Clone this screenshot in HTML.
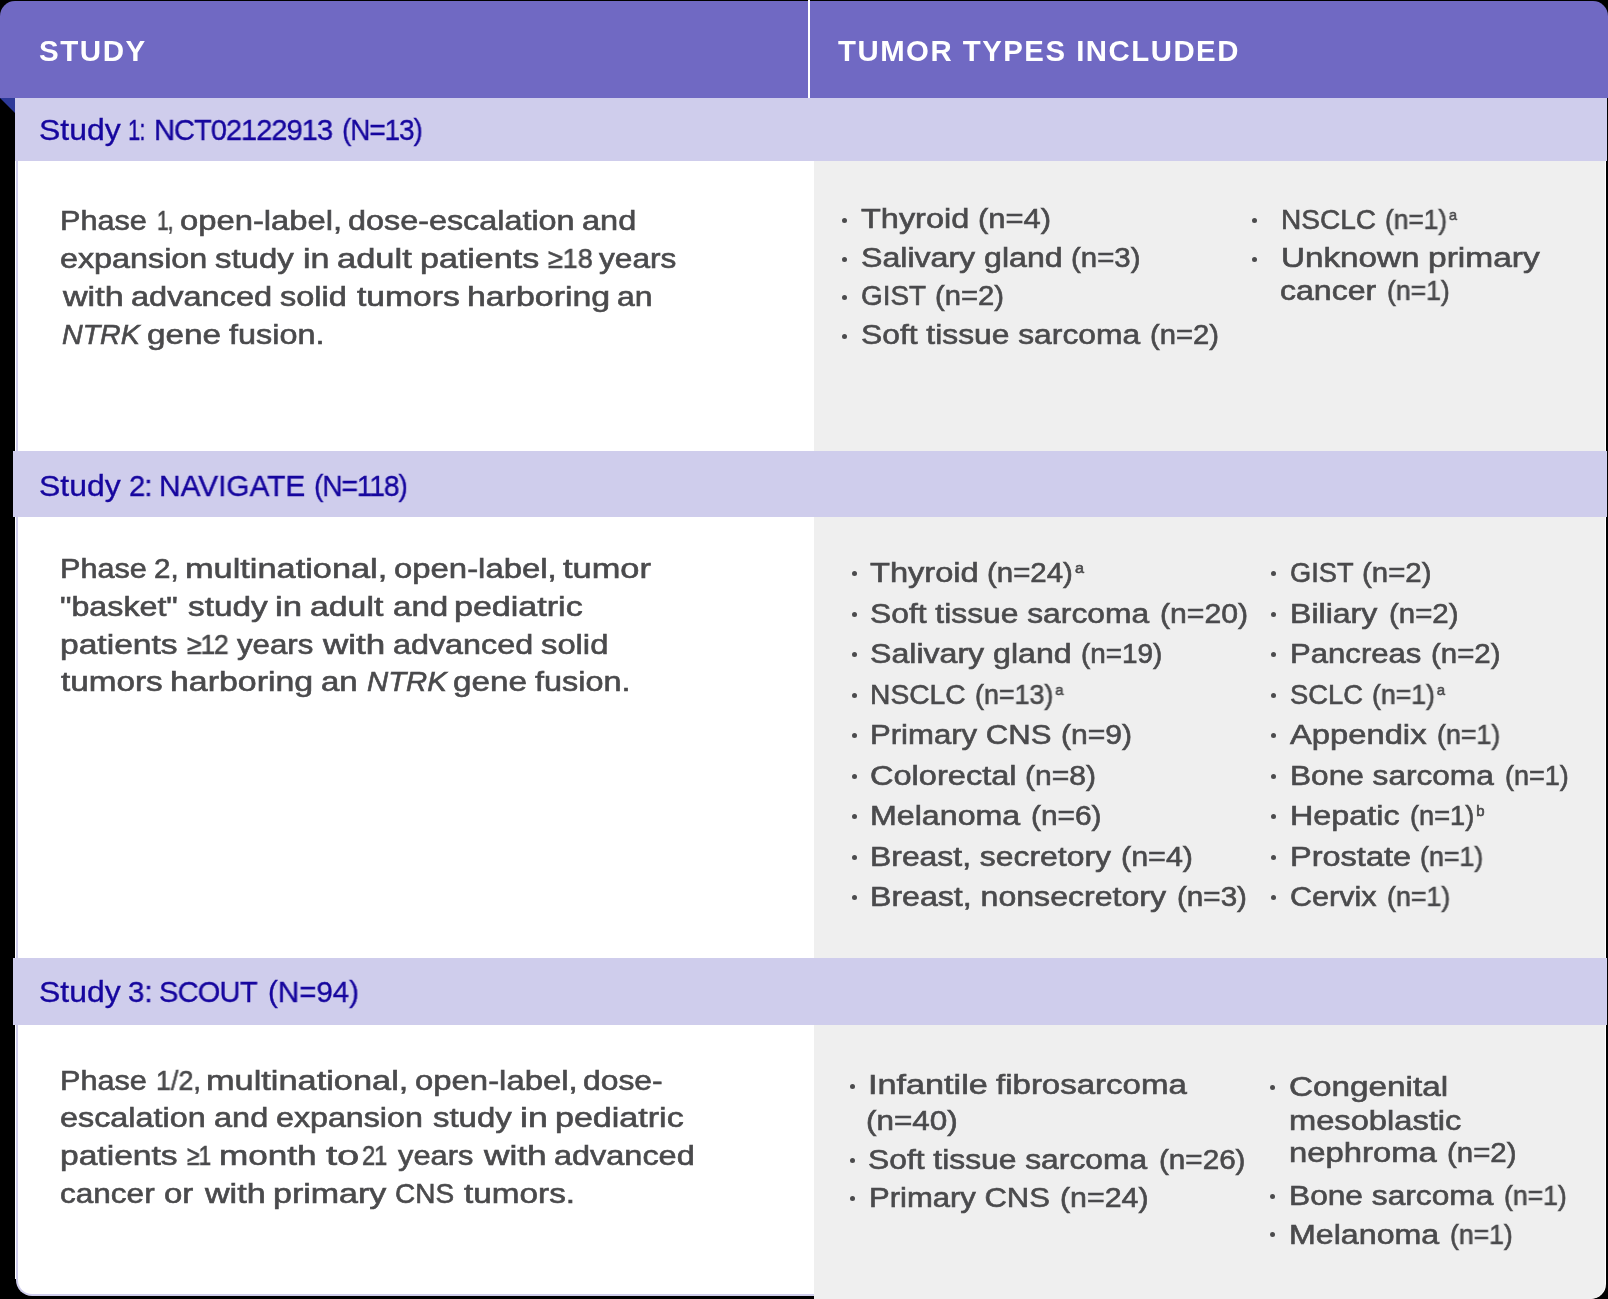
<!DOCTYPE html>
<html><head><meta charset="utf-8">
<style>
html,body{margin:0;padding:0;background:#000;width:1608px;height:1299px;overflow:hidden;position:relative;}
*{box-sizing:border-box;}
.abs{position:absolute;}
#hdr{left:0;top:1px;width:1608px;height:97px;background:#7069C3;border-radius:15px 15px 0 0;}
#hdiv{left:808px;top:0px;width:2px;height:98px;background:#fff;}
#tri{left:0;top:98px;width:0;height:0;border-top:15px solid #2E3A99;border-left:15px solid transparent;}
#bodyL{left:15px;top:98px;width:805px;height:1181px;background:#fff;}
#bodyLb{left:16px;top:98px;width:804px;height:1198px;background:#fff;border-left:2px solid #CFCDEC;border-bottom:2px solid #CFCDEC;border-radius:0 0 0 16px;}
#gray{left:814px;top:161px;width:791px;height:1138px;background:#EFEFEF;border-radius:0 0 15px 0;}
#grayw{left:814px;top:161px;width:792px;height:1138px;background:#fff;border-radius:0 0 15px 0;}
.band{background:#CFCDEC;}
.t{position:absolute;white-space:nowrap;font-family:"Liberation Sans",sans-serif;transform-origin:0 0;will-change:transform;}
.h{color:#fff;font-weight:bold;letter-spacing:1.5px;}
.st{color:#16069E;-webkit-text-stroke:0.35px #16069E;}
.p{color:#4A4A4C;-webkit-text-stroke:0.6px #4A4A4C;}
.r{color:#4A4A4C;-webkit-text-stroke:0.6px #4A4A4C;}
.t sup{font-size:0.55em;vertical-align:0;position:relative;top:-0.62em;margin-left:2px;}
.bul{position:absolute;width:5px;height:5px;border-radius:50%;background:#4B4B4D;}
</style></head><body>
<div id="hdr" class="abs"></div>
<div id="hdiv" class="abs"></div>
<div id="tri" class="abs"></div>
<div id="bodyL" class="abs"></div>
<div id="bodyLb" class="abs"></div>
<div id="grayw" class="abs"></div>
<div id="gray" class="abs"></div>
<div class="abs band" style="left:15px;top:98px;width:1592px;height:63px;"></div>
<div class="abs band" style="left:13px;top:451px;width:1594px;height:66px;"></div>
<div class="abs band" style="left:13px;top:958px;width:1594px;height:67px;"></div>
<div class="t h" id="L0" style="left:38.50px;top:36.55px;font-size:29.0px;line-height:29.0px;transform:scaleX(1.0189)">STUDY</div>
<div class="t h" id="L1" style="left:837.50px;top:36.55px;font-size:29.0px;line-height:29.0px;transform:scaleX(1.0114)">TUMOR TYPES INCLUDED</div>
<div class="t st" id="L2" style="left:39.00px;top:115.45px;font-size:30.0px;line-height:30.0px;transform:scaleX(1.0659)">Study</div>
<div class="t st" id="L3" style="left:127.50px;top:115.45px;font-size:30.0px;line-height:30.0px;transform:scaleX(0.7351);letter-spacing:-1.20px">1:</div>
<div class="t st" id="L4" style="left:154.00px;top:115.45px;font-size:30.0px;line-height:30.0px;transform:scaleX(0.9711);letter-spacing:-1.08px">NCT02122913</div>
<div class="t st" id="L5" style="left:342.00px;top:115.45px;font-size:30.0px;line-height:30.0px;transform:scaleX(0.9345);letter-spacing:-1.20px">(N=13)</div>
<div class="t st" id="L6" style="left:39.00px;top:470.55px;font-size:30.0px;line-height:30.0px;transform:scaleX(1.0659)">Study</div>
<div class="t st" id="L7" style="left:128.50px;top:470.55px;font-size:30.0px;line-height:30.0px;transform:scaleX(0.9712);letter-spacing:-0.87px">2:</div>
<div class="t st" id="L8" style="left:159.00px;top:470.55px;font-size:30.0px;line-height:30.0px;transform:scaleX(0.9931)">NAVIGATE</div>
<div class="t st" id="L9" style="left:314.00px;top:470.55px;font-size:30.0px;line-height:30.0px;transform:scaleX(0.9408);letter-spacing:-1.20px">(N=118)</div>
<div class="t st" id="L10" style="left:39.00px;top:977.45px;font-size:30.0px;line-height:30.0px;transform:scaleX(1.0659)">Study</div>
<div class="t st" id="L11" style="left:127.50px;top:977.45px;font-size:30.0px;line-height:30.0px;transform:scaleX(0.9775)">3:</div>
<div class="t st" id="L12" style="left:159.00px;top:977.45px;font-size:30.0px;line-height:30.0px;transform:scaleX(0.9681);letter-spacing:-0.82px">SCOUT</div>
<div class="t st" id="L13" style="left:267.50px;top:977.45px;font-size:30.0px;line-height:30.0px;transform:scaleX(0.9834)">(N=94)</div>
<div class="t p" id="L14" style="left:60.00px;top:207.12px;font-size:27.5px;line-height:27.5px;transform:scaleX(1.1134)">Phase</div>
<div class="t p" id="L15" style="left:156.50px;top:207.12px;font-size:27.5px;line-height:27.5px;transform:scaleX(0.7627);letter-spacing:-1.20px">1,</div>
<div class="t p" id="L16" style="left:179.50px;top:207.12px;font-size:27.5px;line-height:27.5px;transform:scaleX(1.1918)">open-label,</div>
<div class="t p" id="L17" style="left:347.50px;top:207.12px;font-size:27.5px;line-height:27.5px;transform:scaleX(1.1763)">dose-escalation</div>
<div class="t p" id="L18" style="left:581.50px;top:207.12px;font-size:27.5px;line-height:27.5px;transform:scaleX(1.1820)">and</div>
<div class="t p" id="L19" style="left:59.50px;top:244.92px;font-size:27.5px;line-height:27.5px;transform:scaleX(1.1748)">expansion</div>
<div class="t p" id="L20" style="left:215.00px;top:244.92px;font-size:27.5px;line-height:27.5px;transform:scaleX(1.1970)">study</div>
<div class="t p" id="L21" style="left:302.50px;top:244.92px;font-size:27.5px;line-height:27.5px;transform:scaleX(1.2377)">in</div>
<div class="t p" id="L22" style="left:337.00px;top:244.92px;font-size:27.5px;line-height:27.5px;transform:scaleX(1.2543)">adult</div>
<div class="t p" id="L23" style="left:419.50px;top:244.92px;font-size:27.5px;line-height:27.5px;transform:scaleX(1.2370)">patients</div>
<div class="t p" id="L24" style="left:547.50px;top:244.92px;font-size:27.5px;line-height:27.5px;transform:scaleX(0.9780)">&#8805;18</div>
<div class="t p" id="L25" style="left:598.50px;top:244.92px;font-size:27.5px;line-height:27.5px;transform:scaleX(1.1493)">years</div>
<div class="t p" id="L26" style="left:62.50px;top:282.72px;font-size:27.5px;line-height:27.5px;transform:scaleX(1.2399)">with</div>
<div class="t p" id="L27" style="left:131.00px;top:282.72px;font-size:27.5px;line-height:27.5px;transform:scaleX(1.1838)">advanced</div>
<div class="t p" id="L28" style="left:279.50px;top:282.72px;font-size:27.5px;line-height:27.5px;transform:scaleX(1.1820)">solid</div>
<div class="t p" id="L29" style="left:356.50px;top:282.72px;font-size:27.5px;line-height:27.5px;transform:scaleX(1.2230)">tumors</div>
<div class="t p" id="L30" style="left:466.50px;top:282.72px;font-size:27.5px;line-height:27.5px;transform:scaleX(1.2326)">harboring</div>
<div class="t p" id="L31" style="left:617.00px;top:282.72px;font-size:27.5px;line-height:27.5px;transform:scaleX(1.1617)">an</div>
<div class="t p" id="L32" style="left:61.50px;top:320.52px;font-size:27.5px;line-height:27.5px;transform:scaleX(1.0395)"><i>NTRK</i></div>
<div class="t p" id="L33" style="left:146.50px;top:320.52px;font-size:27.5px;line-height:27.5px;transform:scaleX(1.2085)">gene</div>
<div class="t p" id="L34" style="left:228.50px;top:320.52px;font-size:27.5px;line-height:27.5px;transform:scaleX(1.1773)">fusion.</div>
<div class="t p" id="L35" style="left:60.00px;top:555.02px;font-size:27.5px;line-height:27.5px;transform:scaleX(1.1134)">Phase</div>
<div class="t p" id="L36" style="left:153.50px;top:555.02px;font-size:27.5px;line-height:27.5px;transform:scaleX(1.0752)">2,</div>
<div class="t p" id="L37" style="left:184.50px;top:555.02px;font-size:27.5px;line-height:27.5px;transform:scaleX(1.2484)">multinational,</div>
<div class="t p" id="L38" style="left:393.50px;top:555.02px;font-size:27.5px;line-height:27.5px;transform:scaleX(1.1955)">open-label,</div>
<div class="t p" id="L39" style="left:562.50px;top:555.02px;font-size:27.5px;line-height:27.5px;transform:scaleX(1.2500)">tumor</div>
<div class="t p" id="L40" style="left:60.00px;top:592.72px;font-size:27.5px;line-height:27.5px;transform:scaleX(1.1717)">"basket"</div>
<div class="t p" id="L41" style="left:187.50px;top:592.72px;font-size:27.5px;line-height:27.5px;transform:scaleX(1.2122)">study</div>
<div class="t p" id="L42" style="left:274.50px;top:592.72px;font-size:27.5px;line-height:27.5px;transform:scaleX(1.2641)">in</div>
<div class="t p" id="L43" style="left:309.50px;top:592.72px;font-size:27.5px;line-height:27.5px;transform:scaleX(1.2289)">adult</div>
<div class="t p" id="L44" style="left:392.50px;top:592.72px;font-size:27.5px;line-height:27.5px;transform:scaleX(1.2047)">and</div>
<div class="t p" id="L45" style="left:454.00px;top:592.72px;font-size:27.5px;line-height:27.5px;transform:scaleX(1.2380)">pediatric</div>
<div class="t p" id="L46" style="left:60.00px;top:630.52px;font-size:27.5px;line-height:27.5px;transform:scaleX(1.2213)">patients</div>
<div class="t p" id="L47" style="left:186.50px;top:630.52px;font-size:27.5px;line-height:27.5px;transform:scaleX(0.9627);letter-spacing:-1.20px">&#8805;12</div>
<div class="t p" id="L48" style="left:236.50px;top:630.52px;font-size:27.5px;line-height:27.5px;transform:scaleX(1.1344)">years</div>
<div class="t p" id="L49" style="left:323.00px;top:630.52px;font-size:27.5px;line-height:27.5px;transform:scaleX(1.2710)">with</div>
<div class="t p" id="L50" style="left:392.50px;top:630.52px;font-size:27.5px;line-height:27.5px;transform:scaleX(1.1752)">advanced</div>
<div class="t p" id="L51" style="left:541.00px;top:630.52px;font-size:27.5px;line-height:27.5px;transform:scaleX(1.1910)">solid</div>
<div class="t p" id="L52" style="left:60.50px;top:668.32px;font-size:27.5px;line-height:27.5px;transform:scaleX(1.2109)">tumors</div>
<div class="t p" id="L53" style="left:170.00px;top:668.32px;font-size:27.5px;line-height:27.5px;transform:scaleX(1.2326)">harboring</div>
<div class="t p" id="L54" style="left:321.00px;top:668.32px;font-size:27.5px;line-height:27.5px;transform:scaleX(1.1969)">an</div>
<div class="t p" id="L55" style="left:366.50px;top:668.32px;font-size:27.5px;line-height:27.5px;transform:scaleX(1.0659)"><i>NTRK</i></div>
<div class="t p" id="L56" style="left:453.00px;top:668.32px;font-size:27.5px;line-height:27.5px;transform:scaleX(1.2084)">gene</div>
<div class="t p" id="L57" style="left:535.00px;top:668.32px;font-size:27.5px;line-height:27.5px;transform:scaleX(1.1773)">fusion.</div>
<div class="t p" id="L58" style="left:60.00px;top:1066.52px;font-size:27.5px;line-height:27.5px;transform:scaleX(1.1134)">Phase</div>
<div class="t p" id="L59" style="left:155.50px;top:1066.52px;font-size:27.5px;line-height:27.5px;transform:scaleX(0.9764)">1/2,</div>
<div class="t p" id="L60" style="left:206.00px;top:1066.52px;font-size:27.5px;line-height:27.5px;transform:scaleX(1.2485)">multinational,</div>
<div class="t p" id="L61" style="left:415.00px;top:1066.52px;font-size:27.5px;line-height:27.5px;transform:scaleX(1.1955)">open-label,</div>
<div class="t p" id="L62" style="left:583.00px;top:1066.52px;font-size:27.5px;line-height:27.5px;transform:scaleX(1.1568)">dose-</div>
<div class="t p" id="L63" style="left:59.50px;top:1104.32px;font-size:27.5px;line-height:27.5px;transform:scaleX(1.1763)">escalation</div>
<div class="t p" id="L64" style="left:213.50px;top:1104.32px;font-size:27.5px;line-height:27.5px;transform:scaleX(1.1820)">and</div>
<div class="t p" id="L65" style="left:276.00px;top:1104.32px;font-size:27.5px;line-height:27.5px;transform:scaleX(1.1708)">expansion</div>
<div class="t p" id="L66" style="left:432.50px;top:1104.32px;font-size:27.5px;line-height:27.5px;transform:scaleX(1.1971)">study</div>
<div class="t p" id="L67" style="left:519.50px;top:1104.32px;font-size:27.5px;line-height:27.5px;transform:scaleX(1.2908)">in</div>
<div class="t p" id="L68" style="left:554.50px;top:1104.32px;font-size:27.5px;line-height:27.5px;transform:scaleX(1.2380)">pediatric</div>
<div class="t p" id="L69" style="left:60.00px;top:1142.02px;font-size:27.5px;line-height:27.5px;transform:scaleX(1.2213)">patients</div>
<div class="t p" id="L70" style="left:186.50px;top:1142.02px;font-size:27.5px;line-height:27.5px;transform:scaleX(0.8279);letter-spacing:-1.20px">&#8805;1</div>
<div class="t p" id="L71" style="left:219.00px;top:1142.02px;font-size:27.5px;line-height:27.5px;transform:scaleX(1.2770)">month</div>
<div class="t p" id="L72" style="left:326.00px;top:1142.02px;font-size:27.5px;line-height:27.5px;transform:scaleX(1.4551)">to</div>
<div class="t p" id="L73" style="left:362.00px;top:1142.02px;font-size:27.5px;line-height:27.5px;transform:scaleX(0.8639);letter-spacing:-1.20px">21</div>
<div class="t p" id="L74" style="left:397.50px;top:1142.02px;font-size:27.5px;line-height:27.5px;transform:scaleX(1.1195)">years</div>
<div class="t p" id="L75" style="left:483.50px;top:1142.02px;font-size:27.5px;line-height:27.5px;transform:scaleX(1.2814)">with</div>
<div class="t p" id="L76" style="left:553.50px;top:1142.02px;font-size:27.5px;line-height:27.5px;transform:scaleX(1.1795)">advanced</div>
<div class="t p" id="L77" style="left:59.50px;top:1179.82px;font-size:27.5px;line-height:27.5px;transform:scaleX(1.1464)">cancer</div>
<div class="t p" id="L78" style="left:164.00px;top:1179.82px;font-size:27.5px;line-height:27.5px;transform:scaleX(1.1970)">or</div>
<div class="t p" id="L79" style="left:204.50px;top:1179.82px;font-size:27.5px;line-height:27.5px;transform:scaleX(1.2399)">with</div>
<div class="t p" id="L80" style="left:273.00px;top:1179.82px;font-size:27.5px;line-height:27.5px;transform:scaleX(1.2365)">primary</div>
<div class="t p" id="L81" style="left:395.00px;top:1179.82px;font-size:27.5px;line-height:27.5px;transform:scaleX(1.0180)">CNS</div>
<div class="t p" id="L82" style="left:464.00px;top:1179.82px;font-size:27.5px;line-height:27.5px;transform:scaleX(1.2111)">tumors.</div>
<div class="t r" id="L83" style="left:861.00px;top:206.44px;font-size:27.0px;line-height:27.0px;transform:scaleX(1.2023)">Thyroid</div>
<div class="t r" id="L84" style="left:977.50px;top:206.44px;font-size:27.0px;line-height:27.0px;transform:scaleX(1.1453)">(n=4)</div>
<div class="t r" id="L85" style="left:860.50px;top:244.94px;font-size:27.0px;line-height:27.0px;transform:scaleX(1.1886)">Salivary gland</div>
<div class="t r" id="L86" style="left:1070.50px;top:244.94px;font-size:27.0px;line-height:27.0px;transform:scaleX(1.0887)">(n=3)</div>
<div class="t r" id="L87" style="left:860.50px;top:283.44px;font-size:27.0px;line-height:27.0px;transform:scaleX(1.0324)">GIST</div>
<div class="t r" id="L88" style="left:934.50px;top:283.44px;font-size:27.0px;line-height:27.0px;transform:scaleX(1.0807)">(n=2)</div>
<div class="t r" id="L89" style="left:860.50px;top:321.94px;font-size:27.0px;line-height:27.0px;transform:scaleX(1.1772)">Soft tissue sarcoma</div>
<div class="t r" id="L90" style="left:1150.00px;top:321.94px;font-size:27.0px;line-height:27.0px;transform:scaleX(1.0807)">(n=2)</div>
<div class="t r" id="L91" style="left:1281.00px;top:206.74px;font-size:27.0px;line-height:27.0px;transform:scaleX(1.0394)">NSCLC</div>
<div class="t r" id="L92" style="left:1385.00px;top:206.74px;font-size:27.0px;line-height:27.0px;transform:scaleX(0.9731)">(n=1)<sup>a</sup></div>
<div class="t r" id="L93" style="left:1281.00px;top:245.04px;font-size:27.0px;line-height:27.0px;transform:scaleX(1.2295)">Unknown</div>
<div class="t r" id="L94" style="left:1428.00px;top:245.04px;font-size:27.0px;line-height:27.0px;transform:scaleX(1.2416)">primary</div>
<div class="t r" id="L95" style="left:1280.00px;top:278.44px;font-size:27.0px;line-height:27.0px;transform:scaleX(1.1876)">cancer</div>
<div class="t r" id="L96" style="left:1386.50px;top:278.44px;font-size:27.0px;line-height:27.0px;transform:scaleX(0.9839)">(n=1)</div>
<div class="t r" id="L97" style="left:870.00px;top:560.24px;font-size:27.0px;line-height:27.0px;transform:scaleX(1.2080)">Thyroid</div>
<div class="t r" id="L98" style="left:987.00px;top:560.24px;font-size:27.0px;line-height:27.0px;transform:scaleX(1.0899)">(n=24)<sup>a</sup></div>
<div class="t r" id="L99" style="left:869.50px;top:600.74px;font-size:27.0px;line-height:27.0px;transform:scaleX(1.1772)">Soft tissue sarcoma</div>
<div class="t r" id="L100" style="left:1160.00px;top:600.74px;font-size:27.0px;line-height:27.0px;transform:scaleX(1.1169)">(n=20)</div>
<div class="t r" id="L101" style="left:869.50px;top:641.24px;font-size:27.0px;line-height:27.0px;transform:scaleX(1.1887)">Salivary gland</div>
<div class="t r" id="L102" style="left:1080.50px;top:641.24px;font-size:27.0px;line-height:27.0px;transform:scaleX(1.0325)">(n=19)</div>
<div class="t r" id="L103" style="left:869.50px;top:681.74px;font-size:27.0px;line-height:27.0px;transform:scaleX(1.0450)">NSCLC</div>
<div class="t r" id="L104" style="left:975.00px;top:681.74px;font-size:27.0px;line-height:27.0px;transform:scaleX(0.9944)">(n=13)<sup>a</sup></div>
<div class="t r" id="L105" style="left:869.50px;top:722.24px;font-size:27.0px;line-height:27.0px;transform:scaleX(1.1516)">Primary CNS</div>
<div class="t r" id="L106" style="left:1060.50px;top:722.24px;font-size:27.0px;line-height:27.0px;transform:scaleX(1.1130)">(n=9)</div>
<div class="t r" id="L107" style="left:869.50px;top:762.74px;font-size:27.0px;line-height:27.0px;transform:scaleX(1.2059)">Colorectal</div>
<div class="t r" id="L108" style="left:1024.50px;top:762.74px;font-size:27.0px;line-height:27.0px;transform:scaleX(1.1129)">(n=8)</div>
<div class="t r" id="L109" style="left:869.50px;top:803.24px;font-size:27.0px;line-height:27.0px;transform:scaleX(1.1920)">Melanoma</div>
<div class="t r" id="L110" style="left:1031.00px;top:803.24px;font-size:27.0px;line-height:27.0px;transform:scaleX(1.1050)">(n=6)</div>
<div class="t r" id="L111" style="left:869.50px;top:843.74px;font-size:27.0px;line-height:27.0px;transform:scaleX(1.1807)">Breast, secretory</div>
<div class="t r" id="L112" style="left:1120.50px;top:843.74px;font-size:27.0px;line-height:27.0px;transform:scaleX(1.1291)">(n=4)</div>
<div class="t r" id="L113" style="left:869.50px;top:884.24px;font-size:27.0px;line-height:27.0px;transform:scaleX(1.1883)">Breast, nonsecretory</div>
<div class="t r" id="L114" style="left:1176.50px;top:884.24px;font-size:27.0px;line-height:27.0px;transform:scaleX(1.0969)">(n=3)</div>
<div class="t r" id="L115" style="left:1289.50px;top:560.24px;font-size:27.0px;line-height:27.0px;transform:scaleX(1.0081)">GIST</div>
<div class="t r" id="L116" style="left:1362.00px;top:560.24px;font-size:27.0px;line-height:27.0px;transform:scaleX(1.0888)">(n=2)</div>
<div class="t r" id="L117" style="left:1289.50px;top:600.74px;font-size:27.0px;line-height:27.0px;transform:scaleX(1.1875)">Biliary</div>
<div class="t r" id="L118" style="left:1388.50px;top:600.74px;font-size:27.0px;line-height:27.0px;transform:scaleX(1.0887)">(n=2)</div>
<div class="t r" id="L119" style="left:1289.50px;top:641.24px;font-size:27.0px;line-height:27.0px;transform:scaleX(1.1518)">Pancreas</div>
<div class="t r" id="L120" style="left:1431.00px;top:641.24px;font-size:27.0px;line-height:27.0px;transform:scaleX(1.0889)">(n=2)</div>
<div class="t r" id="L121" style="left:1289.50px;top:681.74px;font-size:27.0px;line-height:27.0px;transform:scaleX(1.0143)">SCLC</div>
<div class="t r" id="L122" style="left:1372.00px;top:681.74px;font-size:27.0px;line-height:27.0px;transform:scaleX(0.9866)">(n=1)<sup>a</sup></div>
<div class="t r" id="L123" style="left:1290.00px;top:722.24px;font-size:27.0px;line-height:27.0px;transform:scaleX(1.2124)">Appendix</div>
<div class="t r" id="L124" style="left:1436.50px;top:722.24px;font-size:27.0px;line-height:27.0px;transform:scaleX(0.9921)">(n=1)</div>
<div class="t r" id="L125" style="left:1289.50px;top:762.74px;font-size:27.0px;line-height:27.0px;transform:scaleX(1.1705)">Bone sarcoma</div>
<div class="t r" id="L126" style="left:1504.50px;top:762.74px;font-size:27.0px;line-height:27.0px;transform:scaleX(1.0002)">(n=1)</div>
<div class="t r" id="L127" style="left:1289.50px;top:803.24px;font-size:27.0px;line-height:27.0px;transform:scaleX(1.1967)">Hepatic</div>
<div class="t r" id="L128" style="left:1409.50px;top:803.24px;font-size:27.0px;line-height:27.0px;transform:scaleX(1.0069)">(n=1)<sup>b</sup></div>
<div class="t r" id="L129" style="left:1289.50px;top:843.74px;font-size:27.0px;line-height:27.0px;transform:scaleX(1.2041)">Prostate</div>
<div class="t r" id="L130" style="left:1420.00px;top:843.74px;font-size:27.0px;line-height:27.0px;transform:scaleX(0.9920)">(n=1)</div>
<div class="t r" id="L131" style="left:1289.50px;top:884.24px;font-size:27.0px;line-height:27.0px;transform:scaleX(1.1319)">Cervix</div>
<div class="t r" id="L132" style="left:1387.00px;top:884.24px;font-size:27.0px;line-height:27.0px;transform:scaleX(0.9922)">(n=1)</div>
<div class="t r" id="L133" style="left:868.00px;top:1072.44px;font-size:27.0px;line-height:27.0px;transform:scaleX(1.2664)">Infantile</div>
<div class="t r" id="L134" style="left:996.00px;top:1072.44px;font-size:27.0px;line-height:27.0px;transform:scaleX(1.2230)">fibrosarcoma</div>
<div class="t r" id="L135" style="left:865.50px;top:1107.94px;font-size:27.0px;line-height:27.0px;transform:scaleX(1.1626)">(n=40)</div>
<div class="t r" id="L136" style="left:868.00px;top:1146.54px;font-size:27.0px;line-height:27.0px;transform:scaleX(1.1772)">Soft tissue sarcoma</div>
<div class="t r" id="L137" style="left:1158.50px;top:1146.54px;font-size:27.0px;line-height:27.0px;transform:scaleX(1.0974)">(n=26)</div>
<div class="t r" id="L138" style="left:869.00px;top:1184.74px;font-size:27.0px;line-height:27.0px;transform:scaleX(1.1484)">Primary CNS</div>
<div class="t r" id="L139" style="left:1059.50px;top:1184.74px;font-size:27.0px;line-height:27.0px;transform:scaleX(1.1235)">(n=24)</div>
<div class="t r" id="L140" style="left:1288.50px;top:1074.14px;font-size:27.0px;line-height:27.0px;transform:scaleX(1.2323)">Congenital</div>
<div class="t r" id="L141" style="left:1288.50px;top:1107.54px;font-size:27.0px;line-height:27.0px;transform:scaleX(1.2092)">mesoblastic</div>
<div class="t r" id="L142" style="left:1288.50px;top:1139.84px;font-size:27.0px;line-height:27.0px;transform:scaleX(1.2149)">nephroma</div>
<div class="t r" id="L143" style="left:1447.00px;top:1139.84px;font-size:27.0px;line-height:27.0px;transform:scaleX(1.0889)">(n=2)</div>
<div class="t r" id="L144" style="left:1288.50px;top:1183.44px;font-size:27.0px;line-height:27.0px;transform:scaleX(1.1734)">Bone sarcoma</div>
<div class="t r" id="L145" style="left:1504.00px;top:1183.44px;font-size:27.0px;line-height:27.0px;transform:scaleX(0.9839)">(n=1)</div>
<div class="t r" id="L146" style="left:1288.50px;top:1221.94px;font-size:27.0px;line-height:27.0px;transform:scaleX(1.1920)">Melanoma</div>
<div class="t r" id="L147" style="left:1450.00px;top:1221.94px;font-size:27.0px;line-height:27.0px;transform:scaleX(0.9839)">(n=1)</div>
<div class="bul" style="left:842.3px;top:218.1px"></div>
<div class="bul" style="left:842.3px;top:256.6px"></div>
<div class="bul" style="left:842.3px;top:295.1px"></div>
<div class="bul" style="left:842.3px;top:333.6px"></div>
<div class="bul" style="left:1251.9px;top:217.9px"></div>
<div class="bul" style="left:1251.9px;top:256.7px"></div>
<div class="bul" style="left:851.8px;top:571.1px"></div>
<div class="bul" style="left:851.8px;top:611.6px"></div>
<div class="bul" style="left:851.8px;top:652.1px"></div>
<div class="bul" style="left:851.8px;top:692.6px"></div>
<div class="bul" style="left:851.8px;top:733.1px"></div>
<div class="bul" style="left:851.8px;top:773.6px"></div>
<div class="bul" style="left:851.8px;top:814.1px"></div>
<div class="bul" style="left:851.8px;top:854.6px"></div>
<div class="bul" style="left:851.8px;top:895.1px"></div>
<div class="bul" style="left:1271.4px;top:571.1px"></div>
<div class="bul" style="left:1271.4px;top:611.6px"></div>
<div class="bul" style="left:1271.4px;top:652.1px"></div>
<div class="bul" style="left:1271.4px;top:692.6px"></div>
<div class="bul" style="left:1271.4px;top:733.1px"></div>
<div class="bul" style="left:1271.4px;top:773.6px"></div>
<div class="bul" style="left:1271.4px;top:814.1px"></div>
<div class="bul" style="left:1271.4px;top:854.6px"></div>
<div class="bul" style="left:1271.4px;top:895.1px"></div>
<div class="bul" style="left:850.4px;top:1084.0px"></div>
<div class="bul" style="left:850.4px;top:1158.1px"></div>
<div class="bul" style="left:850.4px;top:1196.3px"></div>
<div class="bul" style="left:1270.1px;top:1085.2px"></div>
<div class="bul" style="left:1270.1px;top:1193.8px"></div>
<div class="bul" style="left:1270.1px;top:1232.3px"></div>
</body></html>
